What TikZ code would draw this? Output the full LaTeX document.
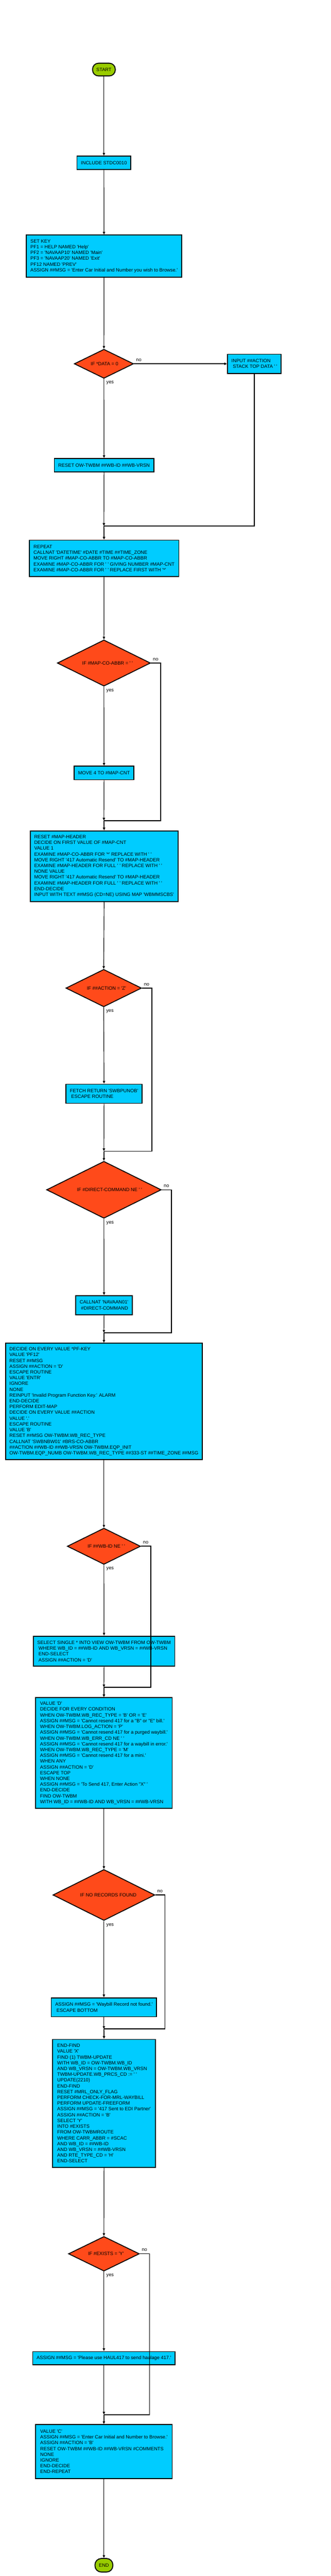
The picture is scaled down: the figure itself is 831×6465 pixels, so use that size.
\documentclass[tikz,border=0pt]{standalone}
\usepackage{fontspec}
\setmainfont[Ligatures=TeXOff]{Liberation Sans}
\usetikzlibrary{shapes.geometric,arrows.meta}
\definecolor{boxcyan}{HTML}{00CCFF}
\definecolor{diared}{HTML}{FF4A1A}
\definecolor{termgreen}{HTML}{99CC00}
\newcommand\fsz{\fontsize{12}{14.5}\selectfont}
\newcommand\lsp{\hspace*{3.3pt}}
\tikzset{
  box/.style={rectangle, draw=black, line width=2.4pt, fill=boxcyan, font=\fsz, align=left, inner xsep=10pt, inner ysep=4pt},
  dia/.style={diamond, draw=black, line width=2.2pt, fill=diared, font=\fsz, inner sep=0pt, aspect=2},
  term/.style={rectangle, rounded corners=15pt, draw=black, line width=2.4pt, fill=termgreen, font=\fsz, inner sep=2pt},
  conn/.style={line width=1.5pt, -{Triangle[length=7pt,width=6pt]}},
  branch/.style={line width=2.2pt},
  barrow/.style={line width=2.2pt, -{Triangle[length=7pt,width=6pt]}},
  lbl/.style={font=\fsz, inner sep=0pt},
}
\begin{document}
\begin{tikzpicture}[x=1pt,y=-1pt]
\fill[white] (0,0) rectangle (831,6465);
\useasboundingbox (0,0) rectangle (831,6465);

% ---------- nodes ----------
\node[term, minimum width=57pt, minimum height=32pt] (start) at (261,174.6) {START};
\node[box, minimum width=135pt, minimum height=33.5pt] (inc) at (261,408.7) {INCLUDE STDC0010};
\node[box, minimum width=389pt, minimum height=105pt] (setkey) at (261.3,642.6) {SET KEY\\PF1 = HELP NAMED 'Help'\\PF2 = 'NAVAAP10' NAMED 'Main'\\PF3 = 'NAVAAP20' NAMED 'Exit'\\PF12 NAMED 'PREV'\\ASSIGN \#\#MSG = 'Enter Car Initial and Number you wish to Browse.'};
\node[dia, minimum width=149pt, minimum height=73pt] (d1) at (261,913) {\hspace*{3pt}IF *DATA = 0};
\node[box, minimum width=135pt, minimum height=48pt] (inp) at (639,913) {INPUT \#\#ACTION\\\lsp STACK TOP DATA ' '};
\node[box, minimum width=249pt, minimum height=33.5pt] (rst) at (261.3,1167.5) {RESET OW-TWBM \#\#WB-ID \#\#WB-VRSN};
\node[box, minimum width=376pt, minimum height=91pt] (rep) at (261.3,1401.2) {REPEAT\\CALLNAT 'DATETIME' \#DATE \#TIME \#\#TIME\_ZONE\\MOVE RIGHT \#MAP-CO-ABBR TO \#MAP-CO-ABBR\\EXAMINE \#MAP-CO-ABBR FOR ' ' GIVING NUMBER \#MAP-CNT\\EXAMINE \#MAP-CO-ABBR FOR ' ' REPLACE FIRST WITH '*'};
\node[dia, minimum width=234pt, minimum height=116pt] (d2) at (261,1664) {\hspace*{18pt}IF \#MAP-CO-ABBR = ' '};
\node[box, minimum width=149pt, minimum height=34pt] (mv4) at (261.3,1940) {MOVE 4 TO \#MAP-CNT};
\node[box, minimum width=370pt, minimum height=177pt] (mh) at (261.5,2173.8) {RESET \#MAP-HEADER\\DECIDE ON FIRST VALUE OF \#MAP-CNT\\VALUE 1\\EXAMINE \#MAP-CO-ABBR FOR '*' REPLACE WITH ' '\\MOVE RIGHT '417 Automatic Resend' TO \#MAP-HEADER\\EXAMINE \#MAP-HEADER FOR FULL ' ' REPLACE WITH ' '\\NONE VALUE\\MOVE RIGHT '417 Automatic Resend' TO \#MAP-HEADER\\EXAMINE \#MAP-HEADER FOR FULL ' ' REPLACE WITH ' '\\END-DECIDE\\INPUT WITH TEXT \#\#MSG (CD=NE) USING MAP 'WBMMSCBS'};
\node[dia, minimum width=190pt, minimum height=94pt] (d3) at (260.5,2479.8) {\hspace*{14pt}IF \#\#ACTION = 'Z'};
\node[box, minimum width=191pt, minimum height=48pt] (fetch) at (261.3,2745) {FETCH RETURN 'SWBPUNOB'\\\lsp ESCAPE ROUTINE};
\node[dia, minimum width=288pt, minimum height=143pt] (d4) at (261,2986) {\hspace*{28pt}IF \#DIRECT-COMMAND NE ' '};
\node[box, minimum width=141pt, minimum height=48pt] (cn) at (261.3,3275.6) {CALLNAT 'NAVAAN01'\\\lsp\#DIRECT-COMMAND};
\node[box, minimum width=493pt, minimum height=292pt] (dec) at (261,3517.2) {DECIDE ON EVERY VALUE *PF-KEY\\VALUE 'PF12'\\RESET \#\#MSG\\ASSIGN \#\#ACTION = 'D'\\ESCAPE ROUTINE\\VALUE 'ENTR'\\IGNORE\\NONE\\REINPUT 'Invalid Program Function Key.' ALARM\\END-DECIDE\\PERFORM EDIT-MAP\\DECIDE ON EVERY VALUE \#\#ACTION\\VALUE '.'\\ESCAPE ROUTINE\\VALUE 'B'\\RESET \#\#MSG OW-TWBM.WB\_REC\_TYPE\\CALLNAT 'SWBNBW01' \#BRS-CO-ABBR\\\#\#ACTION \#\#WB-ID \#\#WB-VRSN OW-TWBM.EQP\_INIT\\OW-TWBM.EQP\_NUMB OW-TWBM.WB\_REC\_TYPE \#\#333-ST \#\#TIME\_ZONE \#\#MSG};
\node[dia, minimum width=184pt, minimum height=91pt] (d5) at (261,3880.6) {\hspace*{12pt}IF \#\#WB-ID NE ' '};
\node[box, minimum width=354pt, minimum height=76pt] (sel) at (261.3,4144) {SELECT SINGLE * INTO VIEW OW-TWBM FROM OW-TWBM\\\lsp WHERE WB\_ID = \#\#WB-ID AND WB\_VRSN = \#\#WB-VRSN\\\lsp END-SELECT\\\lsp ASSIGN \#\#ACTION = 'D'};
\node[box, minimum width=343pt, minimum height=278pt] (vd) at (261,4399.8) {VALUE 'D'\\DECIDE FOR EVERY CONDITION\\WHEN OW-TWBM.WB\_REC\_TYPE = 'B' OR = 'E'\\ASSIGN \#\#MSG = 'Cannot resend 417 for a "B" or "E" bill.'\\WHEN OW-TWBM.LOG\_ACTION = 'P'\\ASSIGN \#\#MSG = 'Cannot resend 417 for a purged waybill.'\\WHEN OW-TWBM.WB\_ERR\_CD NE ' '\\ASSIGN \#\#MSG = 'Cannot resend 417 for a waybill in error.'\\WHEN OW-TWBM.WB\_REC\_TYPE = 'M'\\ASSIGN \#\#MSG = 'Cannot resend 417 for a mini.'\\WHEN ANY\\ASSIGN \#\#ACTION = 'D'\\ESCAPE TOP\\WHEN NONE\\ASSIGN \#\#MSG = 'To Send 417, Enter Action "X" '\\END-DECIDE\\FIND OW-TWBM\\WITH WB\_ID = \#\#WB-ID AND WB\_VRSN = \#\#WB-VRSN};
\node[dia, minimum width=256pt, minimum height=128pt] (d6) at (261,4755.8) {\hspace*{22pt}IF NO RECORDS FOUND};
\node[box, minimum width=263pt, minimum height=47.5pt] (wb) at (261,5037.6) {ASSIGN \#\#MSG = 'Waybill Record not found.'\\\lsp ESCAPE BOTTOM};
\node[box, minimum width=258pt, minimum height=321pt] (ef) at (261.3,5278.7) {END-FIND\\VALUE 'X'\\FIND (1) TWBM-UPDATE\\WITH WB\_ID = OW-TWBM.WB\_ID\\AND WB\_VRSN = OW-TWBM.WB\_VRSN\\TWBM-UPDATE.WB\_PRCS\_CD := ' '\\UPDATE(2210)\\END-FIND\\RESET \#MRL\_ONLY\_FLAG\\PERFORM CHECK-FOR-MRL-WAYBILL\\PERFORM UPDATE-FREEFORM\\ASSIGN \#\#MSG = '417 Sent to EDI Partner'\\ASSIGN \#\#ACTION = 'B'\\SELECT 'Y'\\INTO \#EXISTS\\FROM OW-TWBMROUTE\\WHERE CARR\_ABBR = \#SCAC\\AND WB\_ID = \#\#WB-ID\\AND WB\_VRSN = \#\#WB-VRSN\\AND RTE\_TYPE\_CD = 'H'\\END-SELECT};
\node[dia, minimum width=178pt, minimum height=87pt] (d7) at (261,5656.3) {\hspace*{10pt}IF \#EXISTS = 'Y'};
\node[box, minimum width=357pt, minimum height=33.5pt] (pl) at (261,5918.5) {ASSIGN \#\#MSG = 'Please use HAUL417 to send haulage 417.'};
\node[box, minimum width=343pt, minimum height=135pt] (vc) at (261,6152.5) {VALUE 'C'\\ASSIGN \#\#MSG = 'Enter Car Initial and Number to Browse.'\\ASSIGN \#\#ACTION = 'B'\\RESET OW-TWBM \#\#WB-ID \#\#WB-VRSN \#COMMENTS\\NONE\\IGNORE\\END-DECIDE\\END-REPEAT};
\node[term, rounded corners=16pt, minimum width=45pt, minimum height=34pt] (end) at (261,6438) {END};

% ---------- join / turn coordinates ----------
\coordinate (j1) at (261,1320);
\coordinate (n2) at (403.8,1664);
\coordinate (j2) at (261,2059.6);
\coordinate (n3) at (381.6,2479.8);
\coordinate (j3) at (261,2889.2);
\coordinate (n4) at (430.8,2986);
\coordinate (j4) at (261,3344.9);
\coordinate (n5) at (378.9,3880.6);
\coordinate (j5) at (261,4234.6);
\coordinate (n6) at (414.4,4755.8);
\coordinate (j6) at (261,5092.1);
\coordinate (n7) at (375.7,5656.3);
\coordinate (j7) at (261,6059.9);

% ---------- connectors ----------
\draw[conn] (start) -- (inc);
\draw[conn] (inc) -- (setkey);
\draw[conn] (setkey) -- (d1);
\draw[barrow] (d1.east) -- (inp.west);
\draw[conn] (d1.south) -- (rst.north);
\draw[branch] (inp.south) |- (j1);
\draw[conn] (rst.south) -- (j1);
\draw[barrow] (j1) -- (rep.north);
\draw[conn] (rep) -- (d2);

\draw[conn] (d2.south) -- (mv4.north);
\draw[branch] (d2.east) -- (n2) |- (j2);
\draw[conn] (mv4.south) -- (j2);
\draw[barrow] (j2) -- (mh.north);
\draw[conn] (mh.south) -- (d3.north);

\draw[conn] (d3.south) -- (fetch.north);
\draw[branch] (d3.east) -- (n3) |- (j3);
\draw[conn] (fetch.south) -- (j3);
\draw[barrow] (j3) -- (d4.north);

\draw[conn] (d4.south) -- (cn.north);
\draw[branch] (d4.east) -- (n4) |- (j4);
\draw[conn] (cn.south) -- (j4);
\draw[barrow] (j4) -- (dec.north);
\draw[conn] (dec.south) -- (d5.north);

\draw[conn] (d5.south) -- (sel.north);
\draw[branch] (d5.east) -- (n5) |- (j5);
\draw[conn] (sel.south) -- (j5);
\draw[barrow] (j5) -- (vd.north);
\draw[conn] (vd.south) -- (d6.north);

\draw[conn] (d6.south) -- (wb.north);
\draw[branch] (d6.east) -- (n6) |- (j6);
\draw[conn] (wb.south) -- (j6);
\draw[barrow] (j6) -- (ef.north);
\draw[conn] (ef.south) -- (d7.north);

\draw[conn] (d7.south) -- (pl.north);
\draw[branch] (d7.east) -- (n7) |- (j7);
\draw[conn] (pl.south) -- (j7);
\draw[barrow] (j7) -- (vc.north);
\draw[conn] (vc.south) -- (end.north);

% ---------- yes / no labels ----------
\node[lbl, anchor=base west] (no1) at ([xshift=5pt,yshift=6pt]d1.east) {no};
\node[lbl, anchor=base west] (yes1) at ([xshift=6pt,yshift=-12.5pt]d1.south) {yes};
\node[lbl, anchor=base west] (no2) at ([xshift=5pt,yshift=6pt]d2.east) {no};
\node[lbl, anchor=base west] (yes2) at ([xshift=6pt,yshift=-12.5pt]d2.south) {yes};
\node[lbl, anchor=base west] (no3) at ([xshift=5pt,yshift=6pt]d3.east) {no};
\node[lbl, anchor=base west] (yes3) at ([xshift=6pt,yshift=-12.5pt]d3.south) {yes};
\node[lbl, anchor=base west] (no4) at ([xshift=5pt,yshift=6pt]d4.east) {no};
\node[lbl, anchor=base west] (yes4) at ([xshift=6pt,yshift=-12.5pt]d4.south) {yes};
\node[lbl, anchor=base west] (no5) at ([xshift=5pt,yshift=6pt]d5.east) {no};
\node[lbl, anchor=base west] (yes5) at ([xshift=6pt,yshift=-12.5pt]d5.south) {yes};
\node[lbl, anchor=base west] (no6) at ([xshift=5pt,yshift=6pt]d6.east) {no};
\node[lbl, anchor=base west] (yes6) at ([xshift=6pt,yshift=-12.5pt]d6.south) {yes};
\node[lbl, anchor=base west] (no7) at ([xshift=5pt,yshift=6pt]d7.east) {no};
\node[lbl, anchor=base west] (yes7) at ([xshift=6pt,yshift=-12.5pt]d7.south) {yes};
\end{tikzpicture}
\end{document}
